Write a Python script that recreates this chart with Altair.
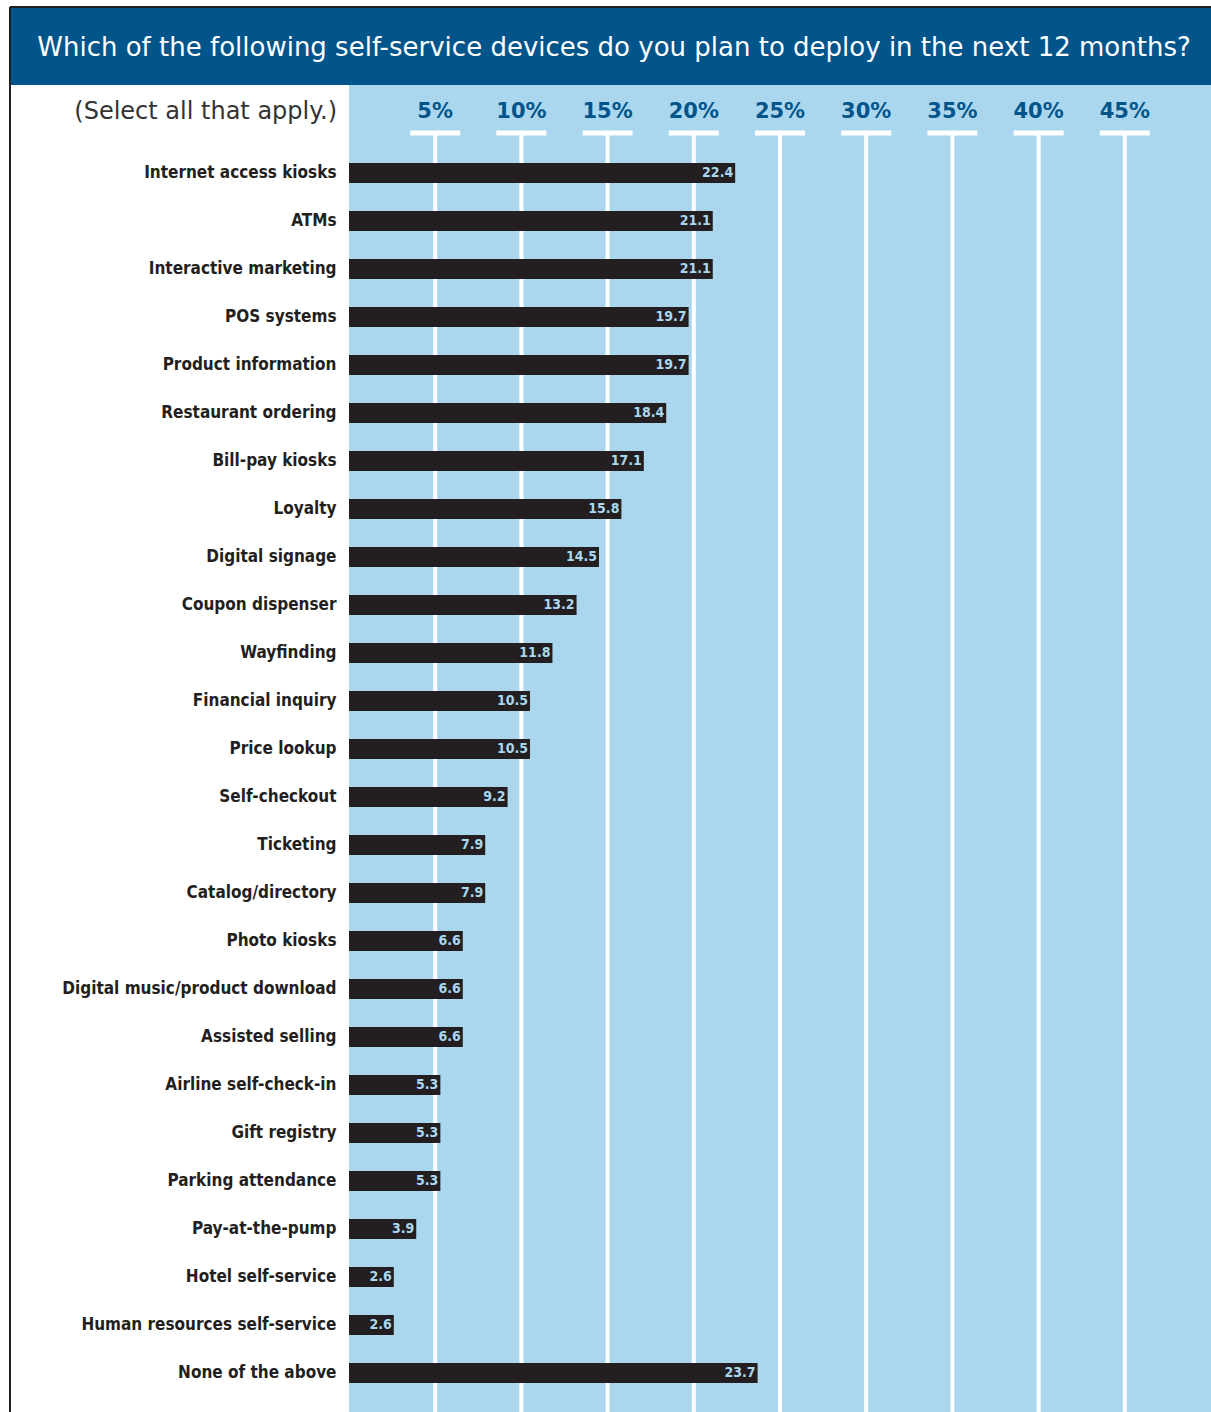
import altair as alt
import pandas as pd

categories = [
    "Internet access kiosks", "ATMs", "Interactive marketing", "POS systems",
    "Product information", "Restaurant ordering", "Bill-pay kiosks", "Loyalty",
    "Digital signage", "Coupon dispenser", "Wayfinding", "Financial inquiry",
    "Price lookup", "Self-checkout", "Ticketing", "Catalog/directory",
    "Photo kiosks", "Digital music/product download", "Assisted selling",
    "Airline self-check-in", "Gift registry", "Parking attendance",
    "Pay-at-the-pump", "Hotel self-service", "Human resources self-service",
    "None of the above",
]
values = [22.4, 21.1, 21.1, 19.7, 19.7, 18.4, 17.1, 15.8, 14.5, 13.2, 11.8, 10.5,
          10.5, 9.2, 7.9, 7.9, 6.6, 6.6, 6.6, 5.3, 5.3, 5.3, 3.9, 2.6, 2.6, 23.7]
ticks = [5, 10, 15, 20, 25, 30, 35, 40, 45]
tick_labels = ["5%", "10%", "15%", "20%", "25%", "30%", "35%", "40%", "45%"]

title_text = "Which of the following self-service devices do you plan to deploy in the next 12 months?"
subtitle_text = "(Select all that apply.)"

DARK_BLUE = "#01558B"
LIGHT_BLUE = "#ABD7EE"
BAR = "#231F20"
COND = "DejaVu Sans Condensed, DejaVu Sans, sans-serif"
HUM = "DejaVu Sans, Verdana, sans-serif"

W, H = 862, 1248
PAD_L, PAD_T = 349, 149

df = pd.DataFrame({"category": categories, "value": values})
df["label"] = [f"{v:.1f}" for v in values]
tdf = pd.DataFrame({"tick": ticks, "label": tick_labels})
tdf["lo"] = tdf["tick"] - 1.45
tdf["hi"] = tdf["tick"] + 1.45

xscale = alt.Scale(domain=[0, 50], nice=False, zero=True)
one = pd.DataFrame({"t": [0]})

border_top = alt.Chart(one).mark_rule(color="#231F20", strokeWidth=2).encode(
    x=alt.value(-339), x2=alt.value(W), y=alt.value(-142))
border_left = alt.Chart(one).mark_rule(color="#231F20", strokeWidth=2).encode(
    x=alt.value(-339), y=alt.value(-142), y2=alt.value(1263))

banner = alt.Chart(one).mark_rect(color=DARK_BLUE).encode(
    x=alt.value(-338), x2=alt.value(W), y=alt.value(-141), y2=alt.value(-64))
title = alt.Chart(one).mark_text(
    text=title_text, color="white", font=HUM, fontSize=26,
    align="center", baseline="middle").encode(x=alt.value(265), y=alt.value(-101))
subtitle = alt.Chart(one).mark_text(
    text=subtitle_text, color="#333333", font=HUM, fontSize=24,
    align="right", baseline="middle").encode(x=alt.value(-12), y=alt.value(-37))

bg = alt.Chart(one).mark_rect(color=LIGHT_BLUE).encode(
    x=alt.value(0), x2=alt.value(W), y=alt.value(-64), y2=alt.value(1263))

grid = alt.Chart(tdf).mark_rule(color="white", strokeWidth=4).encode(
    x=alt.X("tick:Q", scale=xscale, axis=None),
    y=alt.value(-14), y2=alt.value(1263))
under = alt.Chart(tdf).mark_rule(color="white", strokeWidth=5).encode(
    x=alt.X("lo:Q", scale=xscale, axis=None), x2="hi:Q", y=alt.value(-16))
tick_text = alt.Chart(tdf).mark_text(
    color=DARK_BLUE, font=HUM, fontSize=21, fontWeight="bold",
    align="center", baseline="middle").encode(
    x=alt.X("tick:Q", scale=xscale, axis=None), y=alt.value(-37), text="label:N")

yenc = alt.Y("category:N", sort=categories, scale=alt.Scale(paddingInner=0, paddingOuter=0),
             axis=alt.Axis(title=None, domain=False, ticks=False, grid=False,
                           labelFont=COND, labelFontSize=17, labelFontWeight="bold",
                           labelColor=BAR, labelPadding=13, labelLimit=400))

bars = alt.Chart(df).mark_bar(color=BAR, size=20).encode(
    x=alt.X("value:Q", scale=xscale, axis=None), y=yenc)
bar_text = alt.Chart(df).mark_text(
    color=LIGHT_BLUE, font=COND, fontSize=14, fontWeight="bold",
    align="right", baseline="middle", dx=-2).encode(
    x=alt.X("value:Q", scale=xscale, axis=None), y=yenc, text="label:N")

chart = alt.layer(
    bg, banner, border_top, border_left, title, subtitle,
    grid, under, tick_text, bars, bar_text
).properties(
    width=W, height=H,
    padding={"left": PAD_L, "top": PAD_T, "right": 0, "bottom": 15},
    autosize="none", background="white"
).configure_view(stroke=None)

chart.save("out.html", embed_options={"renderer": "svg", "actions": False})
